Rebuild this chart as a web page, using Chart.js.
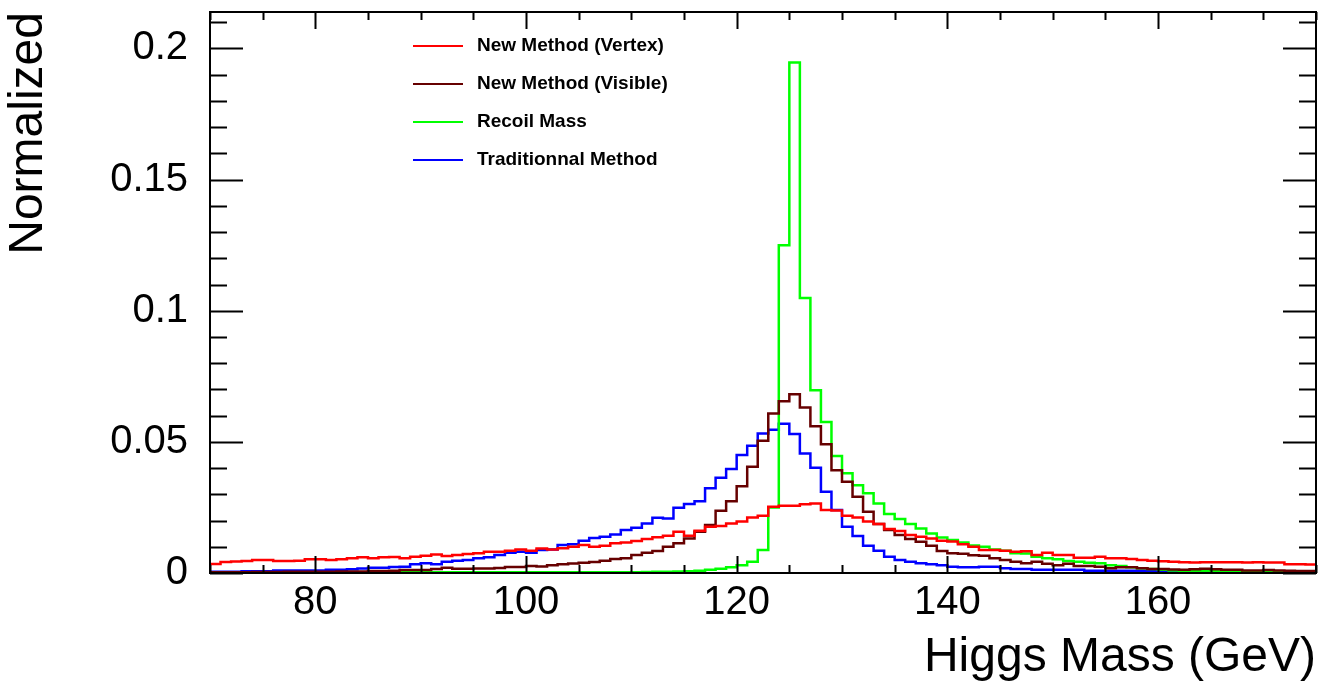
<!DOCTYPE html>
<html>
<head>
<meta charset="utf-8">
<script src="https://cdn.jsdelivr.net/npm/chart.js@4.4.1/dist/chart.umd.min.js"></script>
<style>
	html, body { margin: 0; padding: 0; background: #fff; }
	#wrap { width: 1324px; height: 682px; }
</style>
</head>
<body>
<div id="wrap"><canvas id="chart-higgs"></canvas></div>
<script>
// Histogram binning: 1 GeV bins from 70 to 175
const binLow = 70;
const binWidth = 1;
const xMin = 70;
const xMax = 175;
const yMax = 0.2139;

const seriesNames = ['New Method (Vertex)', 'New Method (Visible)', 'Recoil Mass', 'Traditionnal Method'];
const seriesColors = ['#ff0000', '#660000', '#00ff00', '#0000ff'];

// bin contents, bins 70..174
const vertex = [
	0.0034, 0.0042, 0.0044, 0.0046, 0.0050, 0.0050, 0.0046, 0.0046, 0.0047, 0.0052,
	0.0052, 0.0050, 0.0052, 0.0056, 0.0060, 0.0056, 0.0060, 0.0061, 0.0056, 0.0062,
	0.0066, 0.0071, 0.0065, 0.0069, 0.0072, 0.0075, 0.0081, 0.0081, 0.0085, 0.0090,
	0.0085, 0.0093, 0.0090, 0.0094, 0.0100, 0.0107, 0.0100, 0.0104, 0.0113, 0.0116,
	0.0122, 0.0130, 0.0136, 0.0142, 0.0157, 0.0142, 0.0161, 0.0176, 0.0179, 0.0189,
	0.0196, 0.0212, 0.0218, 0.0253, 0.0256, 0.0256, 0.0262, 0.0265, 0.0240, 0.0238,
	0.0218, 0.0212, 0.0196, 0.0187, 0.0168, 0.0160, 0.0145, 0.0138, 0.0132, 0.0123,
	0.0120, 0.0110, 0.0100, 0.0088, 0.0088, 0.0085, 0.0081, 0.0083, 0.0069, 0.0077,
	0.0069, 0.0069, 0.0058, 0.0058, 0.0062, 0.0056, 0.0056, 0.0053, 0.0050, 0.0047,
	0.0045, 0.0043, 0.0041, 0.0040, 0.0041, 0.0041, 0.0041, 0.0041, 0.0040, 0.0041,
	0.0040, 0.0040, 0.0033, 0.0033, 0.0032,
];
const visible = [
	0.0003, 0.0003, 0.0003, 0.0003, 0.0004, 0.0004, 0.0004, 0.0005, 0.0005, 0.0005,
	0.0005, 0.0005, 0.0006, 0.0006, 0.0006, 0.0008, 0.0008, 0.0009, 0.0011, 0.0011,
	0.0011, 0.0015, 0.0020, 0.0016, 0.0016, 0.0017, 0.0017, 0.0019, 0.0023, 0.0023,
	0.0027, 0.0025, 0.0030, 0.0033, 0.0036, 0.0039, 0.0042, 0.0047, 0.0053, 0.0056,
	0.0069, 0.0077, 0.0084, 0.0100, 0.0113, 0.0132, 0.0157, 0.0183, 0.0237, 0.0274,
	0.0331, 0.0405, 0.0504, 0.0608, 0.0655, 0.0682, 0.0631, 0.0560, 0.0491, 0.0392,
	0.0348, 0.0291, 0.0234, 0.0187, 0.0164, 0.0145, 0.0130, 0.0119, 0.0104, 0.0084,
	0.0075, 0.0073, 0.0068, 0.0066, 0.0056, 0.0050, 0.0043, 0.0037, 0.0043, 0.0035,
	0.0030, 0.0035, 0.0027, 0.0027, 0.0024, 0.0018, 0.0022, 0.0022, 0.0018, 0.0015,
	0.0015, 0.0013, 0.0012, 0.0014, 0.0016, 0.0014, 0.0012, 0.0012, 0.0010, 0.0010,
	0.0011, 0.0010, 0.0009, 0.0008, 0.0008,
];
const recoil = [
	0.0002, 0.0002, 0.0002, 0.0002, 0.0002, 0.0002, 0.0002, 0.0002, 0.0002, 0.0002,
	0.0002, 0.0002, 0.0002, 0.0002, 0.0002, 0.0002, 0.0002, 0.0002, 0.0003, 0.0003,
	0.0003, 0.0003, 0.0003, 0.0003, 0.0003, 0.0003, 0.0003, 0.0003, 0.0003, 0.0003,
	0.0003, 0.0003, 0.0003, 0.0003, 0.0003, 0.0003, 0.0003, 0.0003, 0.0003, 0.0003,
	0.0003, 0.0004, 0.0005, 0.0005, 0.0006, 0.0007, 0.0009, 0.0012, 0.0016, 0.0022,
	0.0030, 0.0043, 0.0088, 0.0250, 0.1250, 0.1946, 0.1049, 0.0697, 0.0576, 0.0446,
	0.0380, 0.0335, 0.0304, 0.0265, 0.0225, 0.0206, 0.0187, 0.0170, 0.0151, 0.0135,
	0.0126, 0.0116, 0.0105, 0.0100, 0.0090, 0.0085, 0.0075, 0.0074, 0.0062, 0.0056,
	0.0052, 0.0046, 0.0043, 0.0039, 0.0037, 0.0030, 0.0027, 0.0022, 0.0018, 0.0015,
	0.0012, 0.0010, 0.0009, 0.0008, 0.0008, 0.0007, 0.0007, 0.0007, 0.0006, 0.0006,
	0.0006, 0.0005, 0.0005, 0.0005, 0.0005,
];
const traditional = [
	0.0005, 0.0005, 0.0005, 0.0007, 0.0007, 0.0007, 0.0010, 0.0010, 0.0010, 0.0010,
	0.0010, 0.0012, 0.0012, 0.0014, 0.0017, 0.0020, 0.0020, 0.0023, 0.0024, 0.0033,
	0.0037, 0.0033, 0.0043, 0.0047, 0.0050, 0.0056, 0.0060, 0.0069, 0.0077, 0.0081,
	0.0077, 0.0088, 0.0090, 0.0107, 0.0110, 0.0123, 0.0133, 0.0138, 0.0147, 0.0164,
	0.0173, 0.0189, 0.0211, 0.0208, 0.0249, 0.0263, 0.0274, 0.0323, 0.0363, 0.0397,
	0.0450, 0.0485, 0.0532, 0.0546, 0.0569, 0.0530, 0.0456, 0.0401, 0.0310, 0.0240,
	0.0176, 0.0141, 0.0104, 0.0085, 0.0062, 0.0050, 0.0043, 0.0037, 0.0033, 0.0030,
	0.0024, 0.0022, 0.0022, 0.0024, 0.0024, 0.0018, 0.0015, 0.0015, 0.0012, 0.0012,
	0.0012, 0.0012, 0.0012, 0.0009, 0.0009, 0.0009, 0.0009, 0.0009, 0.0009, 0.0009,
	0.0009, 0.0006, 0.0006, 0.0006, 0.0006, 0.0006, 0.0006, 0.0006, 0.0006, 0.0006,
	0.0006, 0.0006, 0.0006, 0.0006, 0.0006,
];

// axis ticks (ROOT style, drawn inside the frame)
const xMajorTicks = [80, 100, 120, 140, 160];
const xMinorStep = 5;
const yMinorStep = 0.01;

const FONT = "'Liberation Sans', Arial, Helvetica, sans-serif";

// bin contents -> step outline points (left edges + last right edge)
function toSteps(values) {
	const pts = values.map((v, i) => ({ x: binLow + i * binWidth, y: v }));
	pts.push({ x: binLow + values.length * binWidth, y: values[values.length - 1] });
	return pts;
}

// frame, inner ticks and legend like a ROOT canvas
const rootFrame = {
	id: 'rootFrame',
	afterDraw(chart) {
		const { ctx, chartArea: a, scales: { x, y } } = chart;
		ctx.save();
		ctx.strokeStyle = '#000';
		ctx.lineWidth = 2;
		ctx.strokeRect(a.left, a.top, a.right - a.left, a.bottom - a.top);

		ctx.beginPath();
		// x ticks, bottom and top
		for (let v = xMin; v <= xMax; v += xMinorStep) {
			const px = Math.round(x.getPixelForValue(v)) + 0.5;
			const len = xMajorTicks.includes(v) ? 17 : 8;
			ctx.moveTo(px, a.bottom);
			ctx.lineTo(px, a.bottom - len);
			ctx.moveTo(px, a.top);
			ctx.lineTo(px, a.top + len);
		}
		// y ticks, left and right
		for (let k = 0; k * yMinorStep <= yMax; k++) {
			const py = Math.round(y.getPixelForValue(k * yMinorStep)) + 0.5;
			const len = k % 5 === 0 ? 33 : 17;
			ctx.moveTo(a.left, py);
			ctx.lineTo(a.left + len, py);
			ctx.moveTo(a.right, py);
			ctx.lineTo(a.right - len, py);
		}
		ctx.stroke();

		// legend
		ctx.font = 'bold 19px ' + FONT;
		ctx.textBaseline = 'middle';
		ctx.textAlign = 'left';
		chart.data.datasets.forEach((ds, i) => {
			const ly = 46 + i * 38;
			ctx.strokeStyle = ds.borderColor;
			ctx.lineWidth = 2;
			ctx.beginPath();
			ctx.moveTo(413, ly);
			ctx.lineTo(463, ly);
			ctx.stroke();
			ctx.fillStyle = '#000';
			ctx.fillText(ds.label, 477, ly);
		});
		ctx.restore();
	},
};

!(function () {
	const ctx = document.getElementById('chart-higgs');
	const series = [vertex, visible, recoil, traditional];

	new Chart(ctx, {
		type: 'line',
		data: {
			datasets: series.map((vals, i) => ({
				label: seriesNames[i],
				data: toSteps(vals),
				borderColor: seriesColors[i],
				backgroundColor: seriesColors[i],
				borderWidth: 2.5,
				pointRadius: 0,
				stepped: true,
				fill: false,
			})),
		},
		options: {
			responsive: true,
			maintainAspectRatio: false,
			animation: false,
			layout: { padding: { left: 0, right: 8, top: 12, bottom: 0 } },
			scales: {
				x: {
					type: 'linear',
					min: xMin,
					max: xMax,
					grid: { display: false, drawTicks: false },
					border: { display: false },
					ticks: {
						stepSize: 20,
						includeBounds: false,
						padding: 6,
						color: '#000',
						font: { family: FONT, size: 40 },
						maxRotation: 0,
					},
					title: {
						display: true,
						text: 'Higgs Mass (GeV)',
						align: 'end',
						color: '#000',
						font: { family: FONT, size: 48, lineHeight: 1.0 },
						padding: { top: 0, bottom: 0 },
					},
					afterFit(scale) {
						scale.height = 109;
						scale.paddingLeft = 0;
						scale.paddingRight = 0;
					},
				},
				y: {
					type: 'linear',
					min: 0,
					max: yMax,
					grid: { display: false, drawTicks: false },
					border: { display: false },
					ticks: {
						stepSize: 0.05,
						includeBounds: false,
						padding: 22,
						color: '#000',
						font: { family: FONT, size: 40 },
						callback: (v) => String(parseFloat(v.toFixed(2))),
					},
					title: {
						display: true,
						text: 'Normalized',
						align: 'end',
						color: '#000',
						font: { family: FONT, size: 48, lineHeight: 1.2 },
						padding: { top: 0, bottom: 0 },
					},
					afterFit(scale) {
						scale.width = 210;
						scale.paddingTop = 0;
						scale.paddingBottom = 0;
					},
				},
			},
			plugins: {
				legend: { display: false },
				tooltip: { enabled: false },
			},
		},
		plugins: [rootFrame],
	});
})();
</script>
</body>
</html>
